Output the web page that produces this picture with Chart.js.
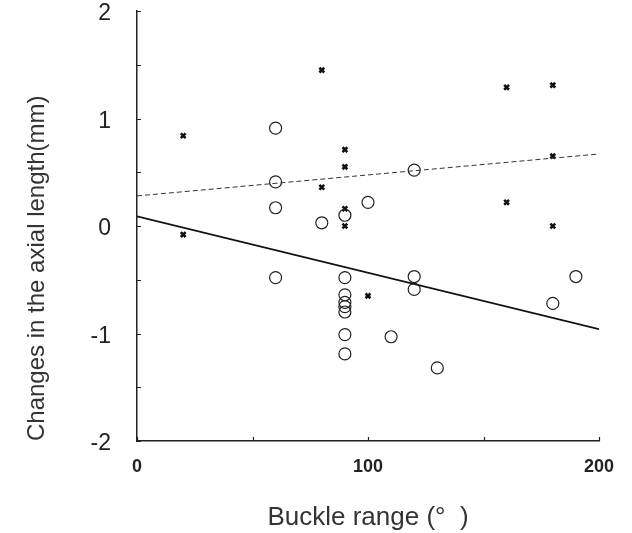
<!DOCTYPE html>
<html>
<head>
<meta charset="utf-8">
<script src="https://cdn.jsdelivr.net/npm/chart.js@4/dist/chart.umd.min.js"></script>
<style>
html,body{margin:0;padding:0;background:#fff;}
#wrap{width:632px;height:533px;position:relative;}
</style>
</head>
<body>
<div id="wrap"><canvas id="c" width="632" height="533"></canvas></div>
<script>
// Crosses (x marks)
const crossX = [20, 80, 90, 90, 80, 90, 90, 160, 180, 180, 160, 180, 20, 100];
const crossY = [0.84, 1.45, 0.71, 0.55, 0.36, 0.16, 0.00, 1.29, 1.31, 0.65, 0.22, 0.00, -0.08, -0.65];
// Open circles
const circleX = [60, 60, 60, 100, 80, 90, 120, 60, 90, 90, 90, 90, 90, 90, 90, 120, 120, 110, 130, 180, 190];
const circleY = [0.91, 0.41, 0.17, 0.22, 0.03, 0.10, 0.52, -0.48, -0.48, -0.64, -0.71, -0.75, -0.80, -1.01, -1.19, -0.47, -0.59, -1.03, -1.32, -0.72, -0.47];
// Regression lines (endpoints)
const solidLineX = [0, 200];
const solidLineY = [0.09, -0.96];
const dashedLineX = [0, 200];
const dashedLineY = [0.28, 0.67];
// Tick labels
const xTickLabels = [0, 100, 200];
const yTickLabels = [-2, -1, 0, 1, 2];

const toPts = (xs, ys) => xs.map((x, i) => ({x: x, y: ys[i]}));

const inwardTicks = {
  id: 'inwardTicks',
  afterDraw(chart) {
    const ctx = chart.ctx;
    const xs = chart.scales.x, ys = chart.scales.y;
    ctx.save();
    ctx.strokeStyle = '#222';
    ctx.lineWidth = 1.2;
    ctx.beginPath();
    xs.ticks.forEach(t => {
      const px = Math.round(xs.getPixelForValue(t.value)) + 0.5;
      ctx.moveTo(px, ys.bottom);
      ctx.lineTo(px, ys.bottom - 4);
    });
    ys.ticks.forEach(t => {
      const py = Math.round(ys.getPixelForValue(t.value)) + 0.5;
      ctx.moveTo(xs.left, py);
      ctx.lineTo(xs.left + 4, py);
    });
    ctx.stroke();
    ctx.restore();
  }
};

new Chart(document.getElementById('c'), {
  type: 'scatter',
  data: {
    datasets: [
      {
        label: 'solid',
        data: toPts(solidLineX, solidLineY),
        showLine: true,
        borderColor: '#111',
        borderWidth: 1.8,
        pointRadius: 0,
        fill: false
      },
      {
        label: 'dashed',
        data: toPts(dashedLineX, dashedLineY),
        showLine: true,
        borderColor: '#333',
        borderWidth: 1,
        borderDash: [5, 3],
        pointRadius: 0,
        fill: false
      },
      {
        label: 'circles',
        data: toPts(circleX, circleY),
        pointStyle: 'circle',
        pointRadius: 6,
        borderColor: '#222',
        backgroundColor: 'rgba(0,0,0,0)',
        borderWidth: 1.2
      },
      {
        label: 'crosses',
        data: toPts(crossX, crossY),
        pointStyle: 'crossRot',
        pointRadius: 3.4,
        borderColor: '#111',
        borderWidth: 2.6
      }
    ]
  },
  options: {
    responsive: false,
    animation: false,
    devicePixelRatio: 1,
    layout: { padding: { top: 11, right: 33, left: 0, bottom: 0 } },
    plugins: { legend: { display: false }, tooltip: { enabled: false } },
    scales: {
      x: {
        type: 'linear',
        min: 0, max: 200,
        grid: { display: false, drawTicks: false },
        border: { display: true, color: '#222', width: 1.5 },
        ticks: {
          stepSize: 50,
          padding: 15,
          color: '#222',
          font: { family: 'Liberation Sans, Arial, sans-serif', size: 18, weight: 'bold' },
          maxRotation: 0,
          autoSkip: false,
          callback: v => xTickLabels.includes(v) ? String(v) : ''
        },
        title: {
          display: true,
          text: 'Buckle range (°  )',
          color: '#333',
          font: { family: 'Liberation Sans, Arial, sans-serif', size: 26 },
          padding: { top: 0, bottom: 0 }
        },
        afterFit: s => { s.height = 92; s.paddingLeft = 0; s.paddingRight = 0; }
      },
      y: {
        type: 'linear',
        min: -2, max: 2,
        grid: { display: false, drawTicks: false },
        border: { display: true, color: '#222', width: 1.5 },
        ticks: {
          stepSize: 0.5,
          padding: 26,
          labelOffset: 3,
          color: '#222',
          font: { family: 'Liberation Sans, Arial, sans-serif', size: 23 },
          autoSkip: false,
          callback: v => yTickLabels.includes(v) ? String(v) : ''
        },
        title: {
          display: true,
          align: 'start',
          text: 'Changes in the axial length(mm)',
          color: '#333',
          font: { family: 'Liberation Sans, Arial, sans-serif', size: 24 },
          padding: { top: 23, bottom: 0 }
        },
        afterFit: s => { s.width = 137; s.paddingTop = 0; s.paddingBottom = 0; }
      }
    }
  },
  plugins: [inwardTicks]
});
</script>
</body>
</html>
